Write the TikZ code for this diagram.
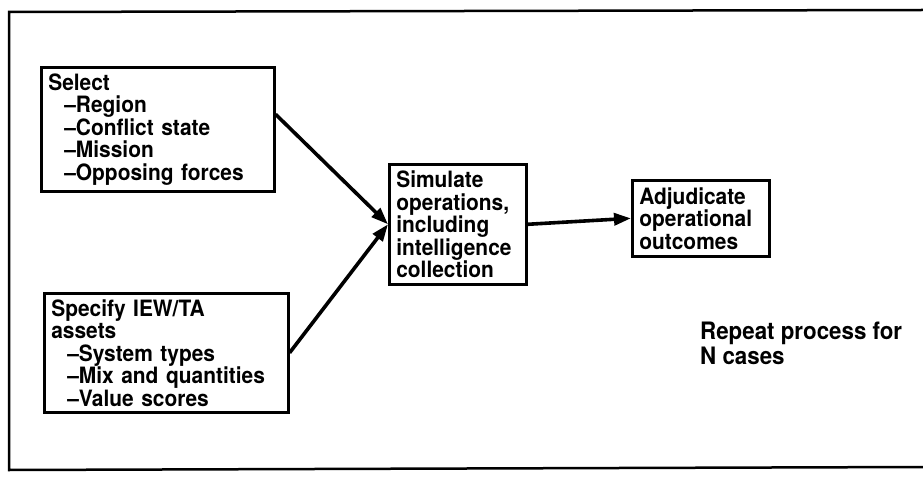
\documentclass[tikz,border=0pt]{standalone}
\usepackage{fontspec}
\setmainfont[FakeStretch=0.93]{TeX Gyre Heros}
\usetikzlibrary{arrows.meta}
\begin{document}
\begin{tikzpicture}[x=1pt,y=-1pt,
  box/.style={draw, line width=2.6pt, inner xsep=7pt, inner ysep=0pt, align=left,
    anchor=north west, font=\fontsize{22.5}{22.5}\bfseries\selectfont},
  conn/.style={line width=3.6pt, -{Triangle[length=17pt,width=12pt]}},
  note/.style={align=left, anchor=north west, inner sep=0pt,
    font=\fontsize{24}{25}\bfseries\selectfont}]
\useasboundingbox (0,0) rectangle (923,478);
\draw[line width=2.5pt] (923,10) -- (9,12) -- (9,470) -- (923,467);

\node[box, text width=219pt, minimum height=124pt] (sel) at (40,66)
  {Select\\
   \hspace*{16pt}–Region\\
   \hspace*{16pt}–Conflict state\\
   \hspace*{16pt}–Mission\\
   \hspace*{16pt}–Opposing forces};

\node[box, text width=230pt, minimum height=119pt] (spec) at (43,292)
  {Specify IEW/TA\\
   assets\\
   \hspace*{16pt}–System types\\
   \hspace*{16pt}–Mix and quantities\\
   \hspace*{16pt}–Value scores};

\node[box, text width=123pt, minimum height=120pt] (sim) at (388,163)
  {Simulate\\ operations,\\ including\\ intelligence\\ collection};

\node[box, text width=123pt, minimum height=76pt] (adj) at (631,179)
  {Adjudicate\\ operational\\ outcomes};

\node[note] (rep) at (700,322) {Repeat process for\\ N cases};

\draw[conn] ([yshift=15pt]sel.east) -- (sim.west);
\draw[conn] (spec.east) -- (sim.west);
\draw[conn] (sim.east) -- (adj.west);
\end{tikzpicture}
\end{document}
